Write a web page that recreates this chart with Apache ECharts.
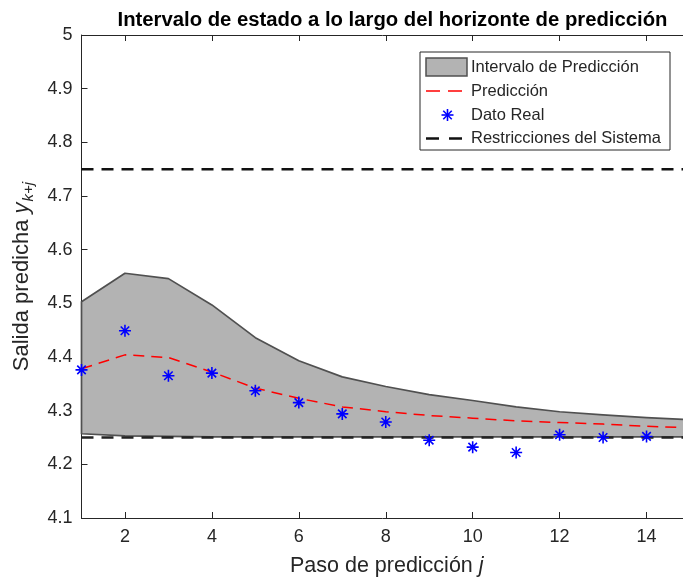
<!DOCTYPE html>
<html>
<head>
<meta charset="utf-8">
<script src="https://cdn.jsdelivr.net/npm/echarts@6/dist/echarts.min.js"></script>
<style>
  html, body { margin: 0; padding: 0; background: #fff; }
  #chart { width: 683px; height: 578px; }
</style>
</head>
<body>
<div id="chart"></div>
<script>
// Prediction step j
const steps = [1, 2, 3, 4, 5, 6, 7, 8, 9, 10, 11, 12, 13, 14, 15];
// Upper and lower bounds of the prediction interval
const upperBound = [4.503, 4.556, 4.546, 4.497, 4.436, 4.393, 4.363, 4.345, 4.330, 4.319, 4.307, 4.298, 4.292, 4.287, 4.283];
const lowerBound = [4.257, 4.253, 4.252, 4.251, 4.251, 4.251, 4.251, 4.251, 4.251, 4.251, 4.251, 4.251, 4.251, 4.251, 4.251];
// Predicted output
const prediction = [4.378, 4.404, 4.399, 4.372, 4.342, 4.323, 4.307, 4.298, 4.291, 4.286, 4.281, 4.278, 4.275, 4.271, 4.268];
// Measured output (steps 1..14)
const realSteps = [1, 2, 3, 4, 5, 6, 7, 8, 9, 10, 11, 12, 13, 14];
const realData = [4.376, 4.449, 4.365, 4.370, 4.337, 4.315, 4.294, 4.279, 4.245, 4.232, 4.222, 4.255, 4.250, 4.252];
// System constraints
const constraintMax = 4.75;
const constraintMin = 4.25;
// Tick values
const xTicks = [2, 4, 6, 8, 10, 12, 14];
const yTicks = [4.1, 4.2, 4.3, 4.4, 4.5, 4.6, 4.7, 4.8, 4.9, 5];

const FONT = '"Liberation Sans", Arial, Helvetica, sans-serif';
const AXIS_COLOR = '#262626';
const BAND_FILL = '#b3b3b3';
const BAND_EDGE = '#505050';
const STAR_PATH = 'path://M0,-10 L0,10 M-10,0 L10,0 M-7.07,-7.07 L7.07,7.07 M-7.07,7.07 L7.07,-7.07';

const GRID = { left: 81.5, top: 35, width: 608.5, height: 483, outerBoundsMode: 'none', containLabel: false };

const pair = (xs, ys) => xs.map((x, i) => [x, ys[i]]);
const bandRows = steps.map((x, i) => [x, lowerBound[i], upperBound[i]]);
const xEnds = [steps[0], steps[steps.length - 1]];

// Filled band between the lower and upper bound, drawn once as a closed polygon
function renderBand(params, api) {
  if (params.dataIndex !== 0) return null;
  const top = bandRows.map(r => api.coord([r[0], r[2]]));
  const bottom = bandRows.map(r => api.coord([r[0], r[1]])).reverse();
  return {
    type: 'polygon',
    shape: { points: top.concat(bottom) },
    style: { fill: BAND_FILL, stroke: BAND_EDGE, lineWidth: 1.7, lineJoin: 'round' }
  };
}

const chart = echarts.init(document.getElementById('chart'), null, { renderer: 'canvas' });

const legendX = 420, legendY = 52, legendW = 250, legendH = 98;
const rowY = [67.5, 91, 115, 138.5];
const legendFont = '16.5px ' + FONT;

function legendText(text, y) {
  return {
    type: 'text', z: 101, silent: true, x: 471, y: y,
    style: { text: text, fill: AXIS_COLOR, font: legendFont, verticalAlign: 'middle', textVerticalAlign: 'middle' }
  };
}

// Asterisk marker for the legend, built from four short strokes
function legendStar(cx, cy, r) {
  const d = r * Math.SQRT1_2;
  const segs = [[0, -r, 0, r], [-r, 0, r, 0], [-d, -d, d, d], [-d, d, d, -d]];
  return segs.map(s => ({
    type: 'line', z: 101, silent: true,
    shape: { x1: cx + s[0], y1: cy + s[1], x2: cx + s[2], y2: cy + s[3] },
    style: { stroke: '#0000ff', lineWidth: 1.6 }
  }));
}

const legendGraphics = [
  { type: 'rect', z: 100, silent: true,
    shape: { x: legendX, y: legendY, width: legendW, height: legendH },
    style: { fill: '#ffffff', stroke: AXIS_COLOR, lineWidth: 1 } },
  { type: 'rect', z: 101, silent: true,
    shape: { x: 426, y: 58, width: 41, height: 18 },
    style: { fill: BAND_FILL, stroke: BAND_EDGE, lineWidth: 1.5 } },
  legendText('Intervalo de Predicción', rowY[0]),
  { type: 'line', z: 101, silent: true,
    shape: { x1: 426, y1: rowY[1], x2: 462, y2: rowY[1] },
    style: { stroke: '#ff0000', lineWidth: 1.5, lineDash: [14, 8] } },
  legendText('Predicción', rowY[1]),
  ...legendStar(447.5, rowY[2], 6),
  legendText('Dato Real', rowY[2]),
  { type: 'line', z: 101, silent: true,
    shape: { x1: 426, y1: rowY[3], x2: 462, y2: rowY[3] },
    style: { stroke: '#111111', lineWidth: 2.5, lineDash: [13, 10] } },
  legendText('Restricciones del Sistema', rowY[3])
];

const option = {
  animation: false,
  backgroundColor: '#ffffff',
  textStyle: { fontFamily: FONT },
  title: {
    text: 'Intervalo de estado a lo largo del horizonte de predicción',
    left: 387.5, top: 5, textAlign: 'center',
    textStyle: { fontFamily: FONT, fontSize: 20.3, fontWeight: 'bold', color: '#000' }
  },
  grid: GRID,
  xAxis: [{
    type: 'value', min: 1, max: 15, position: 'bottom',
    name: 'Paso de predicción {it|j}',
    nameLocation: 'middle', nameGap: 37,
    nameTextStyle: {
      fontFamily: FONT, fontSize: 21.5, color: AXIS_COLOR, padding: [0, 0, 0, 2],
      rich: { it: { fontFamily: FONT, fontSize: 21.5, fontStyle: 'italic', color: AXIS_COLOR } }
    },
    axisLine: { show: true, onZero: false, lineStyle: { color: AXIS_COLOR, width: 1 } },
    axisTick: { show: true, inside: true, length: 6, customValues: xTicks, lineStyle: { color: AXIS_COLOR } },
    axisLabel: { show: true, customValues: xTicks, margin: 10, fontFamily: FONT, fontSize: 18, color: AXIS_COLOR },
    splitLine: { show: false }
  }, {
    type: 'value', min: 1, max: 15, position: 'top',
    axisLine: { show: true, onZero: false, lineStyle: { color: AXIS_COLOR, width: 1 } },
    axisTick: { show: true, inside: true, length: 6, customValues: xTicks, lineStyle: { color: AXIS_COLOR } },
    axisLabel: { show: false },
    splitLine: { show: false }
  }],
  yAxis: [{
    type: 'value', min: 4.1, max: 5, position: 'left',
    name: '{m|Salida predicha }{it|y}{sub|k+j}',
    nameLocation: 'middle', nameGap: 44,
    nameTextStyle: {
      fontFamily: FONT, fontSize: 22, color: AXIS_COLOR,
      rich: {
        m: { fontFamily: FONT, fontSize: 22, color: AXIS_COLOR, verticalAlign: 'top', lineHeight: 24 },
        it: { fontFamily: FONT, fontSize: 22, fontStyle: 'italic', color: AXIS_COLOR, verticalAlign: 'top', lineHeight: 24 },
        sub: { fontFamily: FONT, fontSize: 15, fontStyle: 'italic', color: AXIS_COLOR, verticalAlign: 'top',
               lineHeight: 16, padding: [11, 0, 0, 1] }
      }
    },
    axisLine: { show: true, onZero: false, lineStyle: { color: AXIS_COLOR, width: 1 } },
    axisTick: { show: true, inside: true, length: 6, customValues: yTicks, lineStyle: { color: AXIS_COLOR } },
    axisLabel: {
      show: true, customValues: yTicks, margin: 9, fontFamily: FONT, fontSize: 18, color: AXIS_COLOR,
      formatter: v => String(+v.toFixed(1))
    },
    splitLine: { show: false }
  }, {
    type: 'value', min: 4.1, max: 5, position: 'right',
    axisLine: { show: true, onZero: false, lineStyle: { color: AXIS_COLOR, width: 1 } },
    axisTick: { show: true, inside: true, length: 6, customValues: yTicks, lineStyle: { color: AXIS_COLOR } },
    axisLabel: { show: false },
    splitLine: { show: false }
  }],
  series: [
    {
      name: 'Intervalo de Predicción', type: 'custom', z: 1, silent: true,
      renderItem: renderBand,
      data: bandRows,
      encode: { x: 0, y: [1, 2] }
    },
    {
      name: 'Restricciones del Sistema', type: 'line', z: 3,
      data: pair(xEnds, [constraintMax, constraintMax]),
      symbol: 'none', silent: true,
      lineStyle: { color: '#111111', width: 2.5, type: [12, 8] }
    },
    {
      name: 'Restricciones min', type: 'line', z: 3,
      data: pair(xEnds, [constraintMin, constraintMin]),
      symbol: 'none', silent: true,
      lineStyle: { color: '#222222', width: 2.5, type: [12, 8] }
    },
    {
      name: 'Predicción', type: 'line', z: 4,
      data: pair(steps, prediction),
      symbol: 'none', silent: true,
      lineStyle: { color: '#ff0000', width: 1.5, type: [11, 7] }
    },
    {
      name: 'Dato Real', type: 'scatter', z: 5,
      data: pair(realSteps, realData),
      symbol: STAR_PATH, symbolSize: 12, silent: true,
      itemStyle: { color: 'rgba(0,0,0,0)', borderColor: '#0000ff', borderWidth: 1.6, opacity: 1 }
    }
  ],
  graphic: legendGraphics
};

chart.setOption(option);
</script>
</body>
</html>
